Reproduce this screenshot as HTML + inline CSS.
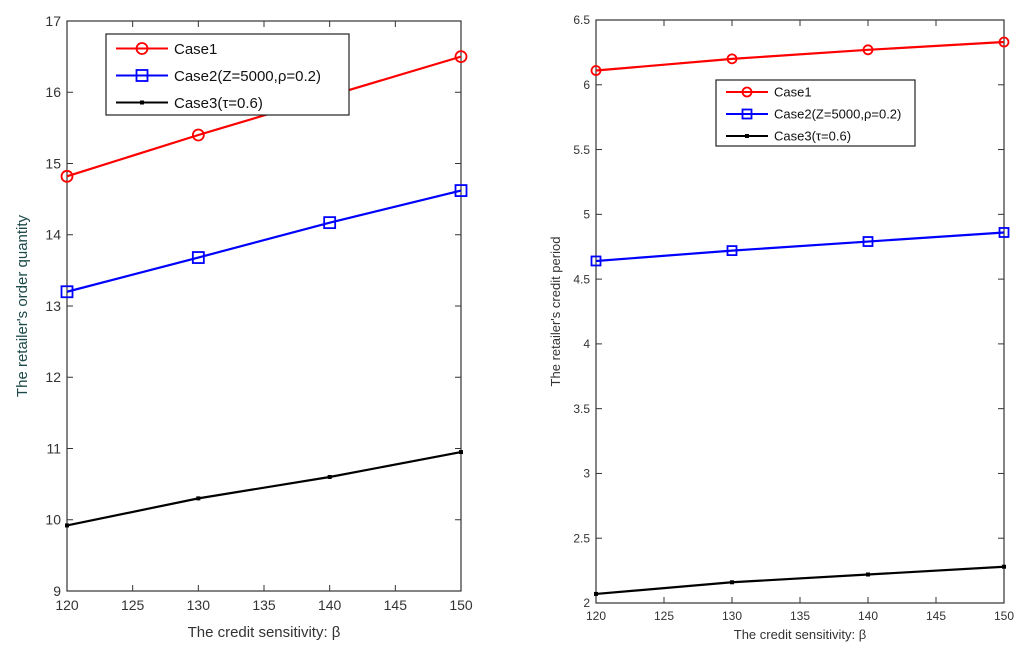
<!DOCTYPE html>
<html><head><meta charset="utf-8"><style>
body{margin:0;background:#fff;}
svg{display:block;font-family:"Liberation Sans",sans-serif;}
</style></head><body>
<svg id="c" width="1024" height="661"></svg>
<script>
const xCats=[120,130,140,150];
const xTicks=[120,125,130,135,140,145,150];
const leftCase1=[14.82,15.4,15.95,16.5];
const leftCase2=[13.2,13.68,14.17,14.62];
const leftCase3=[9.92,10.3,10.6,10.95];
const leftYTicks=[9,10,11,12,13,14,15,16,17];
const rightCase1=[6.11,6.2,6.27,6.33];
const rightCase2=[4.64,4.72,4.79,4.86];
const rightCase3=[2.07,2.16,2.22,2.28];
const rightYTicks=[2,2.5,3,3.5,4,4.5,5,5.5,6,6.5];
const legendLabels=["Case1","Case2(Z=5000,ρ=0.2)","Case3(τ=0.6)"];
const NS="http://www.w3.org/2000/svg";
const svg=document.getElementById('c');
function mk(t,a,p){const e=document.createElementNS(NS,t);for(const k in a)e.setAttribute(k,a[k]);(p||svg).appendChild(e);return e;}
function panel(cfg){
 const g=mk('g',{});
 
 
 const {x0,x1,y0,y1,ymin,ymax,fs}=cfg;
 const sx=v=>x0+(v-120)/30*(x1-x0);
 const sy=v=>y1-(v-ymin)/(ymax-ymin)*(y1-y0);
 const fr=mk('rect',{x:x0,y:y0,width:x1-x0,height:y1-y0,fill:'#fff',stroke:'#333','stroke-width':1.2},g);
 
 
 xTicks.forEach(t=>{const x=sx(t);
  mk('line',{x1:x,x2:x,y1:y1,y2:y1-6,stroke:'#333'},g);mk('line',{x1:x,x2:x,y1:y0,y2:y0+6,stroke:'#333'},g);
  const tx=mk('text',{x:x,y:y1+fs+5,'text-anchor':'middle','font-size':fs,fill:'#333'},g);tx.textContent=t;
  
  });
 cfg.yt.forEach(t=>{const y=sy(t);
  mk('line',{x1:x0,x2:x0+6,y1:y,y2:y,stroke:'#333'},g);mk('line',{x1:x1,x2:x1-6,y1:y,y2:y,stroke:'#333'},g);
  const tx=mk('text',{x:x0-6,y:y+fs*0.35,'text-anchor':'end','font-size':fs,fill:'#333'},g);tx.textContent=t;
  
  });
 const xl=mk('text',{x:(x0+x1)/2,y:cfg.xly,'text-anchor':'middle','font-size':fs+1,fill:'#333'},g);xl.textContent='The credit sensitivity: β';
 
 
 const yl=mk('text',{x:0,y:0,'text-anchor':'middle','font-size':fs+1,fill:cfg.ylc,transform:`translate(${cfg.ylx},${(y0+y1)/2}) rotate(-90)`},g);yl.textContent=cfg.ylabel;
 
 
 const series=[[cfg.s1,'#f00','o'],[cfg.s2,'#00f','s'],[cfg.s3,'#000','x']];
 series.forEach(([d,c,m],i)=>{
  const pl=mk('polyline',{points:d.map((v,j)=>sx(xCats[j])+','+sy(v)).join(' '),fill:'none',stroke:c,'stroke-width':2.2},g);
  
  
  d.forEach((v,j)=>marker(g,sx(xCats[j]),sy(v),m,c,cfg.ms));
 });
 const L=cfg.leg;
 const lb=mk('rect',{x:L.x,y:L.y,width:L.w,height:L.h,fill:'#fff',stroke:'#222','stroke-width':1.2},g);
 
 
 series.forEach(([d,c,m],i)=>{const y=L.y+L.h*(i+0.5)/3+1;
  mk('line',{x1:L.x+10,x2:L.x+L.lw,y1:y,y2:y,stroke:c,'stroke-width':2},g);
  marker(g,L.x+10+(L.lw-10)/2,y,m,c,cfg.ms);
  const t=mk('text',{x:L.x+L.lw+6,y:y+fs*0.38,'font-size':fs+1,fill:'#111'},g);t.textContent=legendLabels[i];
  
  });
}
function marker(g,x,y,m,c,s){let e;
 if(m==='o')e=mk('circle',{cx:x,cy:y,r:s,fill:'none',stroke:c,'stroke-width':1.8},g);
 else if(m==='s')e=mk('rect',{x:x-s,y:y-s,width:2*s,height:2*s,fill:'none',stroke:c,'stroke-width':1.8},g);
 else e=mk('rect',{x:x-2,y:y-2,width:4,height:4,fill:c},g);
 
 }
panel({name:'left-panel',x0:67,x1:461,y0:21,y1:591,ymin:9,ymax:17,fs:14,yt:leftYTicks,s1:leftCase1,s2:leftCase2,s3:leftCase3,
 xly:637,ylx:27,ylabel:"The retailer's order quantity",ylc:'#1d4a4a',ms:5.5,leg:{x:106,y:34,w:243,h:81,lw:62}});
panel({name:'right-panel',x0:596,x1:1004,y0:20,y1:603,ymin:2,ymax:6.5,fs:12,yt:rightYTicks,s1:rightCase1,s2:rightCase2,s3:rightCase3,
 xly:639,ylx:560,ylabel:"The retailer's credit period",ylc:'#333',ms:4.5,leg:{x:716,y:80,w:199,h:66,lw:52}});
</script>
</body></html>
